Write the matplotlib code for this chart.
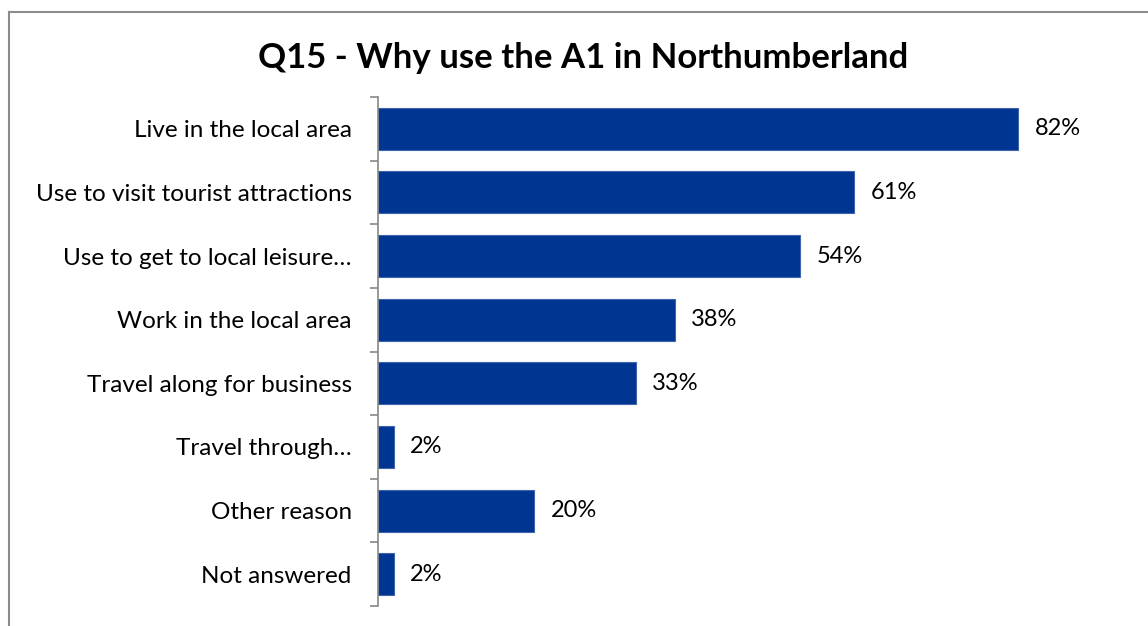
import numpy as np
import matplotlib.pyplot as plt
from matplotlib.lines import Line2D

# Survey responses (percent)
categories = ["Live in the local area", "Use to visit tourist attractions",
              "Use to get to local leisure…", "Work in the local area",
              "Travel along for business", "Travel through…",
              "Other reason", "Not answered"]
values = [82, 61, 54, 38, 33, 2, 20, 2]

plt.rcParams['font.family'] = ['Lato', 'DejaVu Sans']

fig = plt.figure(figsize=(11.48, 6.26), dpi=100)
ax = fig.add_axes([0.3293, 0.0319, 0.612, 0.8131])

y = np.arange(len(categories))
ax.barh(y, values, height=0.66, color='#003591', edgecolor='#3f63ad', linewidth=0.8)

for yi, v in zip(y, values):
    ax.annotate(f"{v}%", (v, yi), xytext=(12, 0), textcoords='offset points',
                va='center', ha='left', fontsize=17, color='black')

ax.set_xlim(0, 90)
ax.set_ylim(len(categories) - 0.5, -0.5)
ax.set_yticks(y)
ax.set_yticklabels(categories, fontsize=17.5)
ax.tick_params(axis='y', which='major', length=0, pad=19)
ax.set_yticks(np.arange(-0.5, len(categories)), minor=True)
ax.tick_params(axis='y', which='minor', length=6, color='#888888', width=1.2)
ax.set_xticks([])
for s in ['top', 'right', 'bottom']:
    ax.spines[s].set_visible(False)
ax.spines['left'].set_color('#888888')
ax.spines['left'].set_linewidth(1.2)

fig.text(0.508, 0.907, "Q15 - Why use the A1 in Northumberland",
         ha='center', va='center', fontsize=25, fontweight='bold')

# chart frame (left and top edges visible)
fig.add_artist(Line2D([9 / 1148, 9 / 1148], [0, 1 - 12 / 626], color='#8c8c8c', lw=1.5))
fig.add_artist(Line2D([9 / 1148, 1], [1 - 12 / 626, 1 - 12 / 626], color='#8c8c8c', lw=1.5))

fig.savefig("out.png", dpi=100)
